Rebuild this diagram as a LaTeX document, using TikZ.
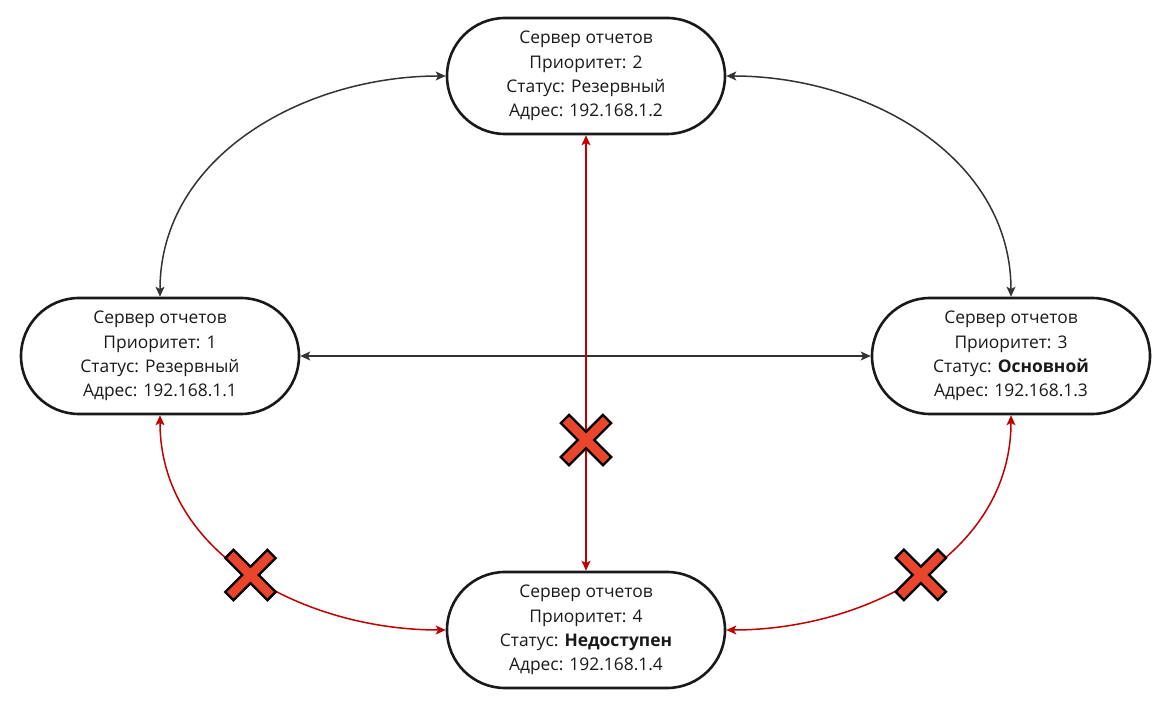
\documentclass[tikz,border=0pt]{standalone}
\usepackage{fontspec}
\setmainfont{Open Sans}
\usetikzlibrary{arrows.meta, positioning}
\definecolor{linegray}{HTML}{333333}
\definecolor{failred}{HTML}{C00000}
\definecolor{crossfill}{HTML}{E8452C}
\tikzset{
  srv/.style = {align=center, inner sep=0pt, text centered,
    draw=black!90, text=black!90, line width=2.6pt, rounded corners=58pt,
    minimum width=278pt, minimum height=116pt,
    font=\fontsize{17.4}{24.2}\selectfont},
  link/.style = {<->, draw=linegray, line width=1.5pt},
  lost/.style = {link, draw=failred},
  failx/.pic = {
    \draw [black, line width=14pt] (-21.9,-21.9) -- (21.9,21.9)
      (-21.9,21.9) -- (21.9,-21.9);
    \draw [crossfill, line width=9pt] (-20.1,-20.1) -- (20.1,20.1)
      (-20.1,20.1) -- (20.1,-20.1);
  }
}

\begin{document}
\begin{tikzpicture}[x=1pt, y=1pt, >={Stealth[length=10pt, width=9pt, inset=2.5pt]}]
\useasboundingbox (0,0) rectangle (1168,710);
\node [srv] (rep2) at (586,634) {Сервер отчетов\\Приоритет: 2\\Статус: Резервный\\Адрес: 192.168.1.2};
\node [srv] (rep1) at (160,354) {Сервер отчетов\\Приоритет: 1\\Статус: Резервный\\Адрес: 192.168.1.1};
\node [srv] (rep3) at (1011,354) {Сервер отчетов\\Приоритет: 3\\Статус: \textbf{Основной}\\Адрес: 192.168.1.3};
\node [srv] (rep4) at (586,80) {Сервер отчетов\\Приоритет: 4\\Статус: \textbf{Недоступен}\\Адрес: 192.168.1.4};
% links between servers
\draw [link] (rep2.west) to[out=180, in=90] (rep1.north);
\draw [link] (rep2.east) to[out=0, in=90] (rep3.north);
\draw [link] (rep1.east) -- (rep3.west);
% broken links
\draw [lost] (rep4.north) -- coordinate[pos=0.3] (cutM) (rep2.south);
\draw [lost] (rep1.south) to[out=-90, in=180] coordinate[pos=0.5] (cutL) (rep4.west);
\draw [lost] (rep3.south) to[out=-90, in=0] coordinate[pos=0.5] (cutR) (rep4.east);
\pic at (cutM) {failx};
\pic at (cutL) {failx};
\pic at (cutR) {failx};
\end{tikzpicture}
\end{document}
